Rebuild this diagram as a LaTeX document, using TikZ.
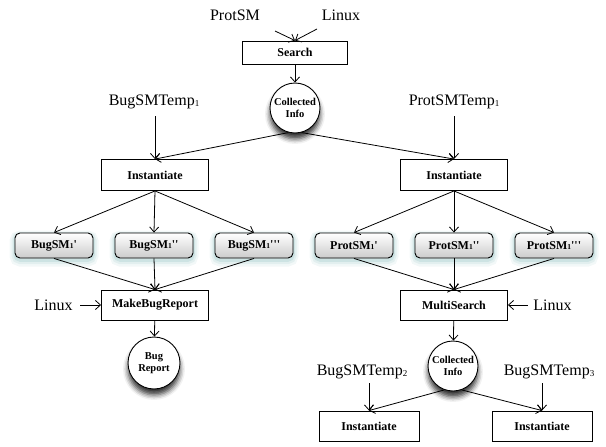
\documentclass[tikz,border=0pt]{standalone}
\usepackage{fontspec}
\setmainfont{Liberation Serif}[Ligatures=TeXOff]
\usetikzlibrary{arrows.meta,shadows.blur}
\newcommand{\lsub}[1]{\raisebox{-1pt}{\fontsize{9}{9}\selectfont #1}}
\newcommand{\bsub}[1]{\raisebox{-0.5pt}{\fontsize{7.5}{7.5}\selectfont #1}}
\definecolor{glowc}{RGB}{130,185,185}
\begin{document}
\begin{tikzpicture}[x=1pt,y=-1pt,
  >={Straight Barb[length=5pt,width=9pt]},
  line width=0.8pt,
  lbl/.style={font=\fontsize{16}{18}\selectfont, inner sep=0pt},
  box/.style={draw, line width=0.9pt, fill=white, font=\bfseries\fontsize{12}{14}\selectfont,
    minimum width=107pt, minimum height=30pt, inner sep=0pt},
  glow/.style={
    preaction={draw=glowc, draw opacity=0.10, line width=11pt, transform canvas={yshift=-3pt}},
    preaction={draw=glowc, draw opacity=0.15, line width=7pt, transform canvas={yshift=-2.5pt}},
    preaction={draw=glowc, draw opacity=0.22, line width=3.5pt, transform canvas={yshift=-2pt}}},
  smbox/.style={draw, line width=0.9pt, rounded corners=5pt, glow, top color=white, bottom color=black!20,
    minimum width=78pt, minimum height=25pt, inner sep=0pt, font=\bfseries\fontsize{12}{14}\selectfont},
  info/.style={circle, draw, line width=0.9pt, fill=white, minimum size=50pt, inner sep=0pt, align=center,
    font=\bfseries\fontsize{10.5}{12.5}\selectfont,
    blur shadow={shadow xshift=0pt, shadow yshift=-6pt, shadow blur radius=5pt, shadow opacity=80}},
  conn/.style={->}
]
\useasboundingbox (0,0) rectangle (606,447);

% top
\node[lbl] (protsm) at (235,15) {ProtSM};
\node[lbl] (linux0) at (341,15) {Linux};
\coordinate (ps1) at (275,31);
\coordinate (lx1) at (317,29);
\node[box, minimum width=105pt, minimum height=23pt] (search) at (295,52.5) {Search};
\node[info] (ci1) at (295,108) {Collected\\Info};

% left branch
\node[lbl] (bt1) at (154,102) {BugSMTemp\lsub{1}};
\node[box, minimum height=31pt] (inst1) at (155,175) {Instantiate};
\node[smbox] (b1) at (54,245.5) {BugSM\bsub{1}'};
\node[smbox] (b2) at (154,245.5) {BugSM\bsub{1}''};
\node[smbox] (b3) at (254,245.5) {BugSM\bsub{1}'''};
\node[box] (mbr) at (155,305) {MakeBugReport};
\node[lbl] (linux1) at (53.5,305) {Linux};
\node[info, minimum size=52pt] (br) at (154,363) {Bug\\Report};

% right branch
\node[lbl] (pt1) at (454,102) {ProtSMTemp\lsub{1}};
\node[box, minimum height=31pt] (inst2) at (454,175) {Instantiate};
\node[smbox] (p1) at (354,245.5) {ProtSM\bsub{1}'};
\node[smbox] (p2) at (454,245.5) {ProtSM\bsub{1}''};
\node[smbox] (p3) at (554,245.5) {ProtSM\bsub{1}'''};
\node[box] (ms) at (454,305) {MultiSearch};
\node[lbl] (linux2) at (552.5,305) {Linux};
\node[info] (ci2) at (453,366) {Collected\\Info};
\node[lbl] (bt2) at (362,372) {BugSMTemp\lsub{2}};
\node[lbl] (bt3) at (549,372) {BugSMTemp\lsub{3}};
\node[box, minimum width=100pt] (inst3) at (369,426) {Instantiate};
\node[box, minimum width=100pt] (inst4) at (542,426) {Instantiate};

% connectors
\draw[conn] (ps1) -- (search.north);
\draw[conn] (lx1) -- (search.north);
\draw[conn] (search) -- (ci1);
\draw[conn] (ci1.255) -- (inst1.north);
\draw[conn] (ci1.285) -- (inst2.north);
\draw[conn, shorten <=7pt] (bt1.south -| inst1) -- (inst1.north);
\draw[conn, shorten <=7pt] (pt1.south -| inst2) -- (inst2.north);
\foreach \n in {b1,b2,b3} {
  \draw[conn] (inst1.south) -- (\n.north);
  \draw[conn] (\n.south) -- (mbr.north);
}
\foreach \n in {p1,p2,p3} {
  \draw[conn] (inst2.south) -- (\n.north);
  \draw[conn] (\n.south) -- (ms.north);
}
\draw[conn, shorten <=7pt] (linux1.east) -- (mbr.west);
\draw[conn] (mbr) -- (br);
\draw[conn, shorten <=5pt] (linux2.west) -- (ms.east);
\draw[conn] (ms) -- (ci2);
\draw[conn] (ci2.250) -- (inst3.north);
\draw[conn] (ci2.290) -- (inst4.north);
\draw[conn, shorten <=4pt] (bt2.south -| inst3) -- (inst3.north);
\draw[conn, shorten <=4pt] (bt3.south -| inst4) -- (inst4.north);
\end{tikzpicture}
\end{document}
